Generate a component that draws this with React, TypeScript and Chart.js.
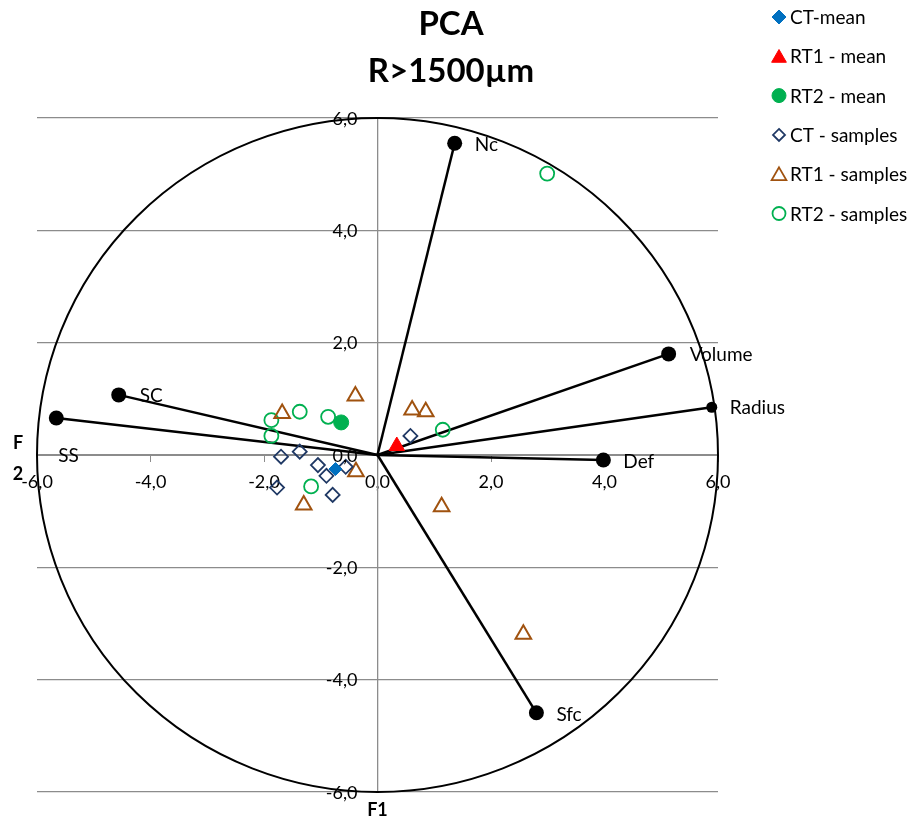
import React, { useEffect, useRef } from 'react';
import { Chart, registerables } from 'chart.js';

Chart.register(...registerables);

// ---------- data ----------
const titleLines = ['PCA', 'R>1500µm'];
const xAxisTitle = 'F1';
const yAxisTitle = ['F', '2'];
const tickValues = [-6, -4, -2, 0, 2, 4, 6];
const circleRadius = 6;

const varNames = ['Nc', 'Volume', 'Radius', 'Def', 'Sfc', 'SS', 'SC'];
const varX = [1.36, 5.13, 5.89, 3.98, 2.8, -5.66, -4.56];
const varY = [5.55, 1.8, 0.85, -0.09, -4.59, 0.66, 1.07];

const ctMeanX = [-0.74];
const ctMeanY = [-0.25];
const rt1MeanX = [0.34];
const rt1MeanY = [0.16];
const rt2MeanX = [-0.64];
const rt2MeanY = [0.58];

const ctSampleX = [-1.7, -1.37, -1.05, -0.9, -0.56, -1.77, -0.79, 0.58];
const ctSampleY = [-0.03, 0.06, -0.18, -0.37, -0.21, -0.58, -0.71, 0.34];

const rt1SampleX = [-0.39, -1.68, 0.61, 0.85, -0.38, -1.3, 1.13, 2.57];
const rt1SampleY = [1.05, 0.74, 0.8, 0.77, -0.3, -0.89, -0.92, -3.19];

const rt2SampleX = [-1.87, -1.37, -0.87, -1.87, -1.17, 1.15, 2.99];
const rt2SampleY = [0.62, 0.77, 0.68, 0.34, -0.56, 0.45, 5.01];

const legendNames = ['CT-mean', 'RT1 - mean', 'RT2 - mean', 'CT - samples', 'RT1 - samples', 'RT2 - samples'];

// ---------- style ----------
const FONT = 'Lato, "Open Sans", sans-serif';
const GRID = '#8c8c8c';
const BLUE = '#0070C0';
const RED = '#FF0000';
const GREEN = '#00B050';
const NAVY = '#1F3864';
const BROWN = '#A0520F';

const labelOffsets: Record<string, [number, number]> = {
  Nc: [20, 2],
  Volume: [21, 1],
  Radius: [18, 1],
  Def: [20, 2],
  Sfc: [20, 2],
  SS: [2, 38],
  SC: [21, 1],
};

const fmt = (v: number) => Number(v).toFixed(1).replace('.', ',');
const pts = (xs: number[], ys: number[]) => xs.map((v, i) => ({ x: v, y: ys[i] }));

function drawMarker(ctx: CanvasRenderingContext2D, kind: string, x: number, y: number, r: number, fill: string | null, stroke: string, lw: number) {
  ctx.beginPath();
  if (kind === 'diamond') {
    ctx.moveTo(x, y - r);
    ctx.lineTo(x + r, y);
    ctx.lineTo(x, y + r);
    ctx.lineTo(x - r, y);
    ctx.closePath();
  } else if (kind === 'triangle') {
    for (let k = 0; k < 3; k++) {
      const a = (k * 2 * Math.PI) / 3;
      const px = x + Math.sin(a) * r;
      const py = y - Math.cos(a) * r + r * 0.2;
      if (k === 0) ctx.moveTo(px, py);
      else ctx.lineTo(px, py);
    }
    ctx.closePath();
  } else {
    ctx.arc(x, y, r, 0, Math.PI * 2);
  }
  if (fill) {
    ctx.fillStyle = fill;
    ctx.fill();
  }
  ctx.strokeStyle = stroke;
  ctx.lineWidth = lw;
  ctx.stroke();
}

const decorPlugin = {
  id: 'pcaDecor',
  beforeDatasetsDraw(chart: any) {
    const { ctx, scales } = chart;
    const x = scales.x;
    const y = scales.y;
    const cx = x.getPixelForValue(0);
    const cy = y.getPixelForValue(0);
    const rx = x.getPixelForValue(circleRadius) - cx;
    const ry = cy - y.getPixelForValue(circleRadius);
    ctx.save();
    ctx.beginPath();
    ctx.ellipse(cx, cy, rx, ry, 0, 0, Math.PI * 2);
    ctx.strokeStyle = '#000';
    ctx.lineWidth = 2;
    ctx.stroke();
    ctx.restore();
  },
  afterDatasetsDraw(chart: any) {
    const { ctx, scales } = chart;
    ctx.save();
    ctx.font = `19px ${FONT}`;
    ctx.fillStyle = '#000';
    ctx.textAlign = 'left';
    ctx.textBaseline = 'middle';
    varNames.forEach((n, i) => {
      const px = scales.x.getPixelForValue(varX[i]);
      const py = scales.y.getPixelForValue(varY[i]);
      const off = labelOffsets[n] || [20, 0];
      ctx.fillText(n, px + off[0], py + off[1]);
    });
    // y tick labels, left of the vertical axis
    ctx.font = `18px ${FONT}`;
    ctx.textAlign = 'right';
    const ax = scales.x.getPixelForValue(0);
    tickValues.forEach((v) => {
      ctx.fillText(fmt(v), ax - 20, scales.y.getPixelForValue(v) + 1);
    });
    ctx.restore();
  },
  afterDraw(chart: any) {
    const { ctx, scales } = chart;
    ctx.save();
    // title
    ctx.fillStyle = '#000';
    ctx.textAlign = 'center';
    ctx.textBaseline = 'alphabetic';
    ctx.font = `bold 33px ${FONT}`;
    ctx.fillText(titleLines[0], 451, 35);
    ctx.fillText(titleLines[1], 451, 82);
    // axis titles
    ctx.font = `bold 18px ${FONT}`;
    ctx.textBaseline = 'middle';
    ctx.fillText(xAxisTitle, scales.x.getPixelForValue(0), 810);
    ctx.fillText(yAxisTitle[0], 18, 443);
    ctx.fillText(yAxisTitle[1], 18, 474);
    // legend
    const kinds = ['diamond', 'triangle', 'circle', 'diamond', 'triangle', 'circle'];
    const fills = [BLUE, RED, GREEN, null, null, null];
    const strokes = [BLUE, RED, GREEN, NAVY, BROWN, GREEN];
    const radii = [7, 8.5, 7, 6, 8.5, 6.5];
    ctx.font = `19px ${FONT}`;
    ctx.textAlign = 'left';
    legendNames.forEach((name, i) => {
      const yy = 17 + i * 39.3;
      drawMarker(ctx, kinds[i], 779, yy, radii[i], fills[i], strokes[i], fills[i] ? 1 : 1.8);
      ctx.fillStyle = '#000';
      ctx.fillText(name, 790, yy + 1);
    });
    ctx.restore();
  },
};

export default function App() {
  const ref = useRef<HTMLCanvasElement | null>(null);

  useEffect(() => {
    if (!ref.current) return;
    const vectorSets = varNames.map((n, i) => ({
      label: n,
      data: [
        { x: 0, y: 0 },
        { x: varX[i], y: varY[i] },
      ],
      showLine: true,
      borderColor: '#000',
      borderWidth: 2.5,
      backgroundColor: '#000',
      pointRadius: [0, n === 'Radius' ? 5.5 : 7.5],
      pointBackgroundColor: '#000',
      pointBorderColor: '#000',
      pointBorderWidth: 0,
      order: 10,
      clip: false,
    }));

    const chart = new Chart(ref.current, {
      type: 'scatter',
      data: {
        datasets: [
          ...vectorSets,
          {
            label: 'CT - samples',
            data: pts(ctSampleX, ctSampleY),
            pointStyle: 'rectRot',
            pointRadius: 7,
            pointBorderWidth: 1.8,
            pointBorderColor: NAVY,
            pointBackgroundColor: 'rgba(0,0,0,0)',
            order: 5,
          },
          {
            label: 'RT1 - samples',
            data: pts(rt1SampleX, rt1SampleY),
            pointStyle: 'triangle',
            pointRadius: 9,
            pointBorderWidth: 2,
            pointBorderColor: BROWN,
            pointBackgroundColor: 'rgba(0,0,0,0)',
            order: 5,
          },
          {
            label: 'RT2 - samples',
            data: pts(rt2SampleX, rt2SampleY),
            pointStyle: 'circle',
            pointRadius: 7,
            pointBorderWidth: 1.8,
            pointBorderColor: GREEN,
            pointBackgroundColor: 'rgba(0,0,0,0)',
            order: 5,
          },
          {
            label: 'CT-mean',
            data: pts(ctMeanX, ctMeanY),
            pointStyle: 'rectRot',
            pointRadius: 6.5,
            pointBorderWidth: 1,
            pointBorderColor: BLUE,
            pointBackgroundColor: BLUE,
            order: 1,
          },
          {
            label: 'RT1 - mean',
            data: pts(rt1MeanX, rt1MeanY),
            pointStyle: 'triangle',
            pointRadius: 9,
            pointBorderWidth: 1,
            pointBorderColor: RED,
            pointBackgroundColor: RED,
            order: 1,
          },
          {
            label: 'RT2 - mean',
            data: pts(rt2MeanX, rt2MeanY),
            pointStyle: 'circle',
            pointRadius: 7.5,
            pointBorderWidth: 1,
            pointBorderColor: GREEN,
            pointBackgroundColor: GREEN,
            order: 1,
          },
        ],
      },
      options: {
        responsive: false,
        animation: false,
        layout: { padding: { left: 37, right: 191, top: 118, bottom: 26 } },
        plugins: {
          legend: { display: false },
          tooltip: { enabled: false },
          title: { display: false },
        },
        scales: {
          x: {
            type: 'linear',
            position: { y: 0 } as any,
            min: -6,
            max: 6,
            afterBuildTicks: (s: any) => {
              s.ticks = tickValues.map((v) => ({ value: v }));
            },
            ticks: {
              font: { family: FONT, size: 18 },
              color: '#000',
              padding: 10,
              callback: (v: any) => fmt(v),
            },
            grid: {
              display: true,
              drawOnChartArea: false,
              drawTicks: true,
              tickLength: 6,
              color: GRID,
            },
            border: { display: true, color: GRID, width: 1 },
          },
          y: {
            type: 'linear',
            position: { x: 0 } as any,
            min: -6,
            max: 6,
            afterBuildTicks: (s: any) => {
              s.ticks = tickValues.map((v) => ({ value: v }));
            },
            ticks: { display: false },
            grid: {
              display: true,
              drawOnChartArea: true,
              drawTicks: false,
              color: GRID,
              lineWidth: 1.3,
            },
            border: { display: true, color: GRID, width: 1.3 },
          },
        },
      },
      plugins: [decorPlugin],
    } as any);

    return () => chart.destroy();
  }, []);

  return (
    <div style={{ position: 'absolute', left: 0, top: 0, width: 909, height: 818, background: '#fff' }}>
      <canvas ref={ref} width={909} height={818} style={{ display: 'block' }} />
    </div>
  );
}
